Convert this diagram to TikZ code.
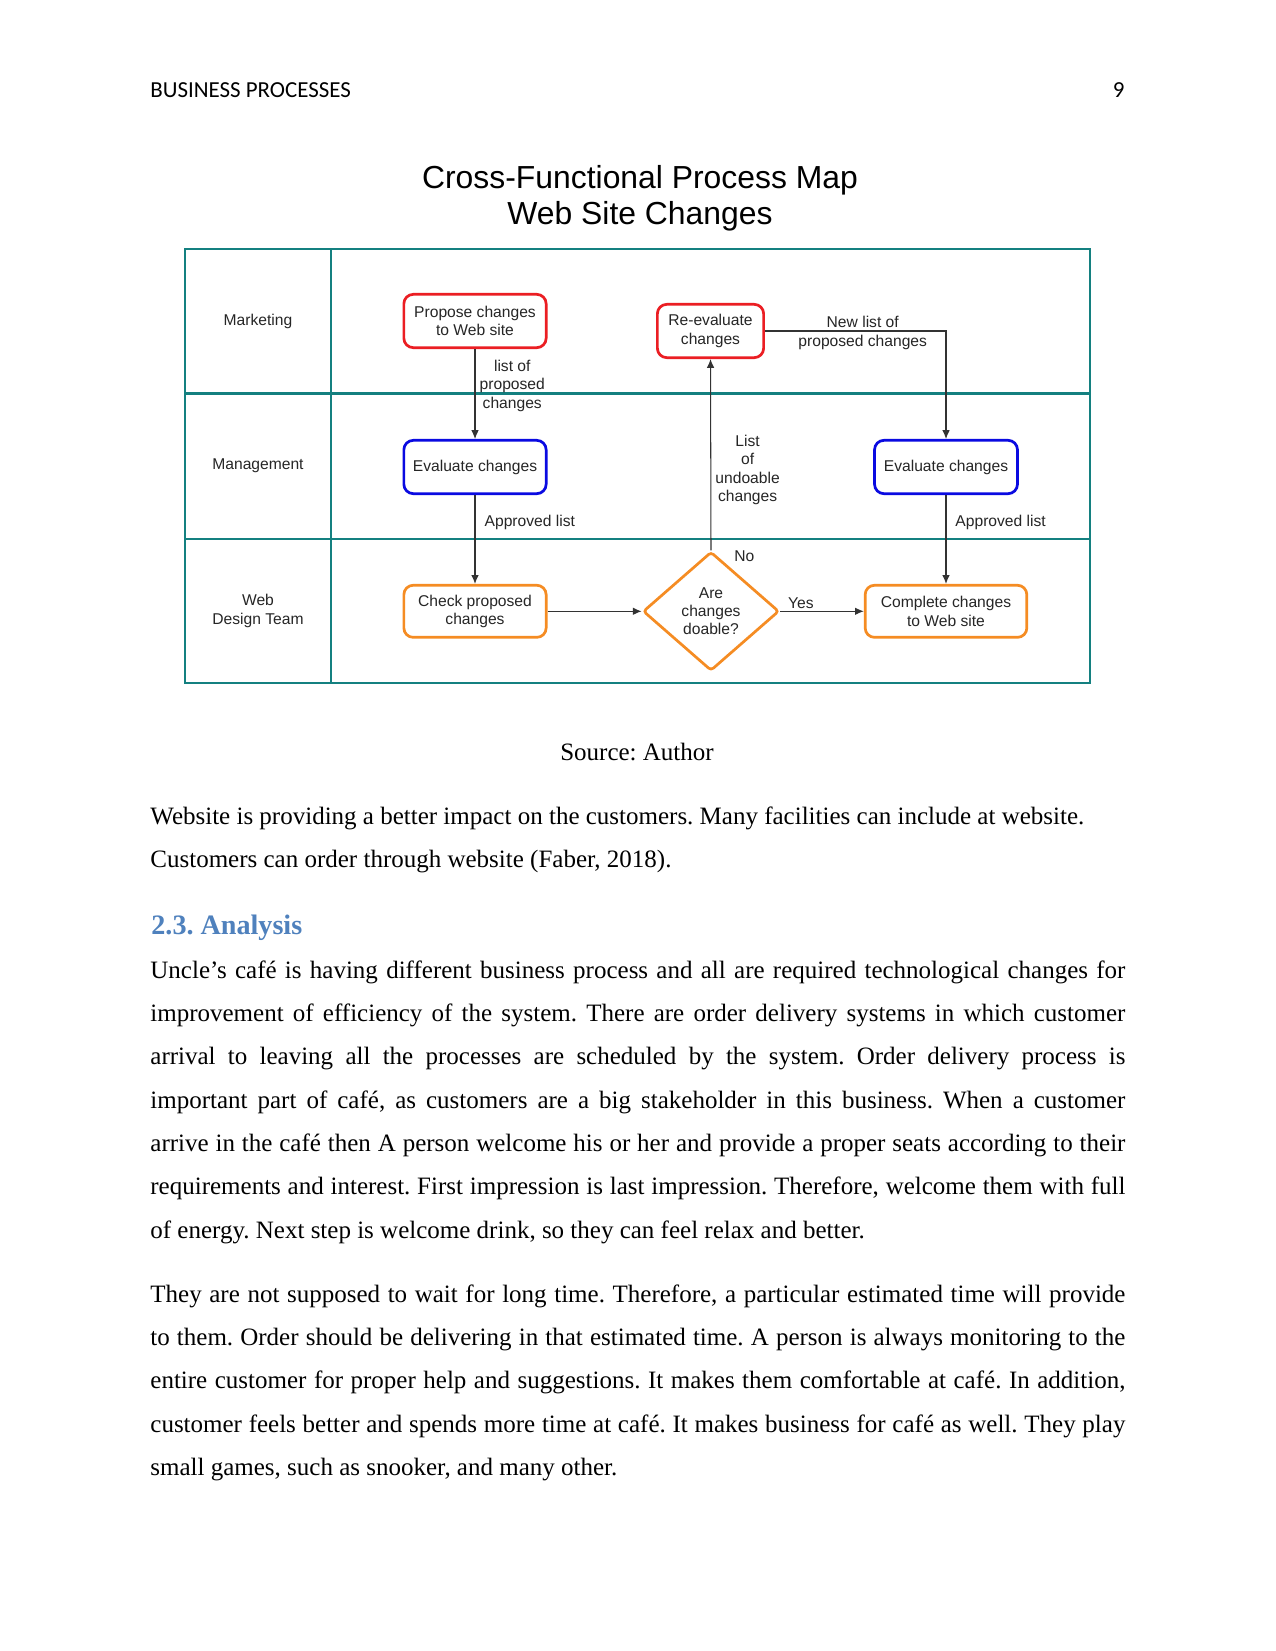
\documentclass[tikz,border=0pt]{standalone}
\usepackage{fontspec}
\setmainfont{Liberation Serif}
\newfontfamily\diagfont{Liberation Sans}
\newfontfamily\headfont{Carlito}
\usetikzlibrary{positioning,shapes.geometric,arrows.meta}
\definecolor{lanecol}{RGB}{20,128,128}
\definecolor{boxred}{RGB}{235,30,35}
\definecolor{boxblue}{RGB}{10,10,225}
\definecolor{boxorange}{RGB}{245,140,35}
\definecolor{headblue}{RGB}{79,129,189}
\newcommand{\chartfont}{\diagfont\fontsize{7.5}{8.8}\selectfont}
\newcommand{\jline}[1]{\hbox to 468pt{#1}}
\frenchspacing

\begin{document}
\begin{tikzpicture}[x=0.48pt, y=-0.48pt, >={Latex[length=4.2pt,width=3.6pt]},
  lane/.style={draw=lanecol, line width=1.4pt},
  lanetxt/.style={font=\chartfont, text=black!85, align=center},
  procbox/.style={draw, rounded corners=4.5pt, line width=1.3pt, align=center,
    inner sep=0pt, font=\chartfont, text=black!85},
  decision/.style={diamond, draw=boxorange, line width=1.3pt, align=center,
    rounded corners=1.5pt, inner sep=0pt, font=\chartfont, text=black!85,
    minimum width=65.3pt, minimum height=57.1pt},
  flow/.style={->, draw=black!80, line width=0.5pt},
  flowlbl/.style={font=\chartfont, text=black!85, inner sep=2pt, align=center},
  headtxt/.style={font=\headfont\fontsize{11}{13}\selectfont, inner sep=0pt},
  titletxt/.style={font=\diagfont\fontsize{15.3}{16}\selectfont, inner sep=0pt},
  bodytxt/.style={font=\fontsize{12}{14}\selectfont, inner sep=0pt}]
  % page size
  \useasboundingbox[fill=white] (0,0) rectangle (1275,1651);
  % running head
  \node[headtxt, anchor=base west] (head) at (150,98) {BUSINESS PROCESSES};
  \node[headtxt, anchor=base east] (pagenum) at (1125,98) {9};
  % chart title
  \node[titletxt, anchor=base] (title1) at (640,188.5) {Cross-Functional Process Map};
  \node[titletxt, anchor=base] (title2) at (640,225) {Web Site Changes};
  % swimlane frame
  \draw[lane] (185,249) rectangle (1090,683);
  \draw[lane] (331,249) -- (331,683);
  \draw[lane] (185,393.5) -- (1090,393.5);
  \draw[lane] (185,539) -- (1090,539);
  % lane names
  \node[lanetxt] (mkt) at (258,321) {Marketing};
  \node[lanetxt] (mgmt) at (258,466) {Management};
  \node[lanetxt] (webteam) at (258,611) {Web\\Design Team};
  % process steps
  \node[procbox, draw=boxred, minimum width=68.3pt, minimum height=25.6pt]
    (propose) at (475,321) {Propose changes\\to Web site};
  \node[procbox, draw=boxblue, minimum width=68.3pt, minimum height=25.6pt]
    (evalA) at (475,467) {Evaluate changes};
  \node[procbox, draw=boxorange, minimum width=68.3pt, minimum height=25pt]
    (check) at (475,611.3) {Check proposed\\changes};
  \node[procbox, draw=boxred, minimum width=51pt, minimum height=25.6pt]
    (reeval) at (710.5,331) {Re-evaluate\\changes};
  \node[procbox, draw=boxblue, minimum width=68.6pt, minimum height=25.6pt]
    (evalB) at (946,467) {Evaluate changes};
  \node[procbox, draw=boxorange, minimum width=77.6pt, minimum height=25pt]
    (complete) at (946,611.3) {Complete changes\\to Web site};
  \node[decision] (doable) at (711,611.3) {Are\\changes\\doable?};
  % flow
  \draw[flow] (propose) -- (evalA)
    node[flowlbl, pos=0.41, right] {list of\\proposed\\changes};
  \draw[flow] (evalA) -- (check)
    node[flowlbl, pos=0.31, right, xshift=2.4pt] {Approved list};
  \draw[flow] (check) -- (doable);
  \draw[flow] (doable.north) -- (reeval.south)
    node[flowlbl, pos=0, anchor=west, xshift=9pt, yshift=-2.9pt] {No}
    node[flowlbl, pos=0.42, right] {List\\of\\undoable\\changes};
  \draw[flow] (reeval.east) -| (evalB.north)
    node[flowlbl, pos=0.27, yshift=-1pt] {New list of\\proposed changes};
  \draw[flow] (evalB) -- (complete)
    node[flowlbl, pos=0.31, right, xshift=2.3pt] {Approved list};
  \draw[flow] (doable.east) -- (complete.west)
    node[flowlbl, pos=0, anchor=south west, xshift=1.5pt, yshift=-1pt] {Yes};
  % caption and text
  \node[bodytxt, anchor=base] (source) at (637,760.7) {Source: Author};
  \node[bodytxt, anchor=base west] (intro1) at (150,824)
    {Website is providing a better impact on the customers. Many facilities can include at website.};
  \node[bodytxt, anchor=base west] (intro2) at (150,867.3)
    {Customers can order through website (Faber, 2018).};
  \node[bodytxt, anchor=base west, font=\bfseries\fontsize{13.5}{16}\selectfont, text=headblue]
    (analysis) at (151,934.7) {2.3. Analysis};
  \foreach \txt [count=\i from 0] in {
    {\jline{Uncle’s café is having different business process and all are required technological changes for}},
    {\jline{improvement of efficiency of the system. There are order delivery systems in which customer}},
    {\jline{arrival to leaving all the processes are scheduled by the system. Order delivery process is}},
    {\jline{important part of café, as customers are a big stakeholder in this business. When a customer}},
    {\jline{arrive in the café then A person welcome his or her and provide a proper seats according to their}},
    {\jline{requirements and interest. First impression is last impression. Therefore, welcome them with full}},
    {of energy. Next step is welcome drink, so they can feel relax and better.}}
    \node[bodytxt, anchor=base west] (parA-\i) at (150,978+43.35*\i) {\txt};
  \foreach \txt [count=\i from 0] in {
    {\jline{They are not supposed to wait for long time. Therefore, a particular estimated time will provide}},
    {\jline{to them. Order should be delivering in that estimated time. A person is always monitoring to the}},
    {\jline{entire customer for proper help and suggestions. It makes them comfortable at café. In addition,}},
    {\jline{customer feels better and spends more time at café. It makes business for café as well. They play}},
    {small games, such as snooker, and many other.}}
    \node[bodytxt, anchor=base west] (parB-\i) at (150,1302+43.35*\i) {\txt};
\end{tikzpicture}
\end{document}
